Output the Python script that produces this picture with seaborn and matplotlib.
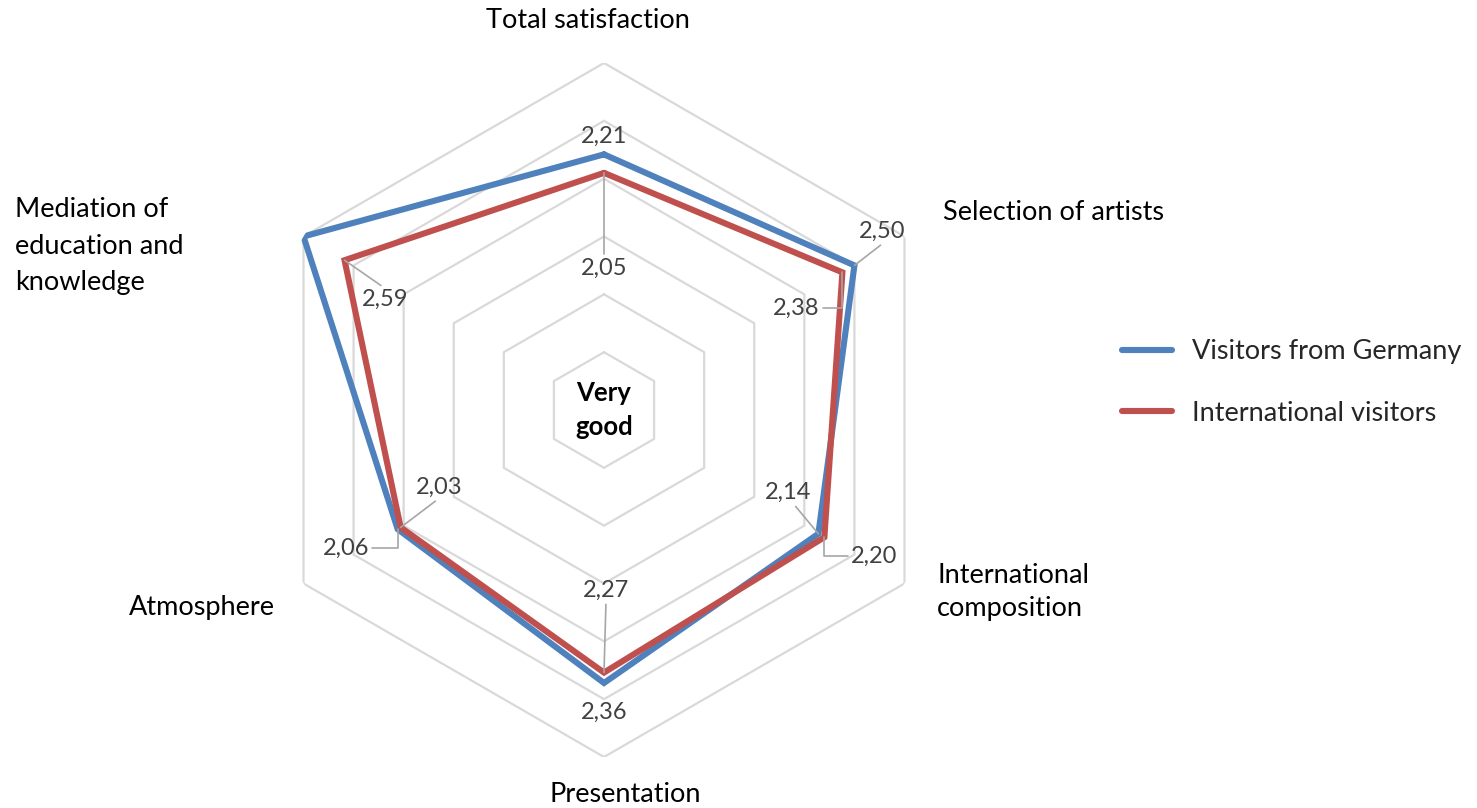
import numpy as np
import pandas as pd
import matplotlib
matplotlib.use("Agg")
import matplotlib.pyplot as plt
import seaborn as sns

# ---- data -------------------------------------------------------------
categories = [
    "Total satisfaction",
    "Selection of artists",
    "International composition",
    "Presentation",
    "Atmosphere",
    "Mediation of education and knowledge",
]
series_names = ["Visitors from Germany", "International visitors"]
germany = [2.21, 2.50, 2.14, 2.36, 2.06, 3.00]
international = [2.05, 2.38, 2.20, 2.27, 2.03, 2.59]
ring_levels = [0.5, 1.0, 1.5, 2.0, 2.5, 3.0]

# ---- styling ----------------------------------------------------------
sns.set_theme(style="white")
plt.rcParams["font.family"] = ["Lato", "DejaVu Sans"]

W, H = 1477, 808
FS_CAT = 19.5     # category labels and legend
FS_VAL = 17       # value labels
FS_MID = 18.5     # centre caption
colors = {"Visitors from Germany": "#4f81bd", "International visitors": "#c0504d"}
grid_color = "#d9d9d9"
label_color = "#404040"
leader_color = "#a6a6a6"

fig = plt.figure(figsize=(W / 100, H / 100), dpi=100)
cx, cy, R = 604, 410, 347
ax = fig.add_axes([(cx - R) / W, (H - cy - R) / H, 2 * R / W, 2 * R / H],
                  projection="polar")
ax.set_theta_zero_location("N")
ax.set_theta_direction(-1)

n = len(categories)
theta = np.linspace(0, 2 * np.pi, n, endpoint=False)
theta_closed = np.append(theta, theta[0] + 2 * np.pi)

# hexagonal grid rings
for lvl in ring_levels:
    ax.plot(theta_closed, [lvl] * (n + 1), color=grid_color, lw=1.6, zorder=1,
            solid_joinstyle="miter")

# series lines
rows = []
for name, vals in zip(series_names, [germany, international]):
    for i, t in enumerate(theta_closed):
        rows.append({"series": name, "theta": t, "value": vals[i % n]})
df = pd.DataFrame(rows)
sns.lineplot(data=df, x="theta", y="value", hue="series", palette=colors,
             sort=False, estimator=None, units="series", lw=4.4, ax=ax,
             legend=True, zorder=3)
for line in ax.get_lines()[len(ring_levels):]:
    line.set_solid_joinstyle("miter")

ax.set_ylim(0, ring_levels[-1])
ax.grid(False)
ax.spines["polar"].set_visible(False)
ax.set_xticks([])
ax.set_yticks([])
ax.set_xlabel("")
ax.set_ylabel("")
ax.set_facecolor("none")

# value labels: (offset in pixels, leader line (relpos, connection style) or None)
ELBOW = "angle,angleA=0,angleB=90,rad=0"
label_layout = {
    ("Visitors from Germany", 0): ((0, 18), None),
    ("International visitors", 0): ((0, -95), ((0.5, 1.0), "arc3")),
    ("Visitors from Germany", 1): ((28, 34), ((0.55, 0.0), "arc3")),
    ("International visitors", 1): ((-46, -36), ((1.0, 0.5), ELBOW)),
    ("Visitors from Germany", 2): ((-30, 41), ((0.6, 0.0), "arc3")),
    ("International visitors", 2): ((50, -19), ((0.0, 0.5), ELBOW)),
    ("Visitors from Germany", 3): ((0, -29), None),
    ("International visitors", 3): ((2, 82), ((0.5, 0.0), "arc3")),
    ("Visitors from Germany", 4): ((-52, -19), ((1.0, 0.5), ELBOW)),
    ("International visitors", 4): ((39, 40), ((0.5, 0.0), "arc3")),
    ("International visitors", 5): ((41, -39), ((0.5, 1.0), "arc3")),
}
for name, vals in zip(series_names, [germany, international]):
    for i, v in enumerate(vals):
        key = (name, i)
        if key not in label_layout:
            continue
        offset, leader = label_layout[key]
        txt = f"{v:.2f}".replace(".", ",")
        kw = {}
        if leader is not None:
            relpos, cstyle = leader
            kw["arrowprops"] = dict(arrowstyle="-", color=leader_color, lw=1.2,
                                    relpos=relpos, connectionstyle=cstyle,
                                    shrinkA=0, shrinkB=0)
        ax.annotate(txt, xy=(theta[i], v), xytext=offset,
                    textcoords="offset pixels", ha="center", va="center",
                    fontsize=FS_VAL, color=label_color, zorder=5,
                    annotation_clip=False, **kw)

# centre caption
ax.text(0, 0, "Very\ngood", ha="center", va="center", fontsize=FS_MID,
        fontweight="bold", color="black", linespacing=1.53, zorder=5)

# category labels
def fig_text(x, y, s, ha, ls=1.3):
    fig.text(x / W, 1 - y / H, s, ha=ha, va="center", fontsize=FS_CAT,
             color="black", linespacing=ls)

fig_text(588, 20, categories[0], "center")
fig_text(943, 212, categories[1], "left")
fig_text(937, 592, "International\ncomposition", "left", 1.41)
fig_text(625, 795, categories[3], "center")
fig_text(275, 607, categories[4], "right")
fig_text(15, 246, "Mediation of\neducation and\nknowledge", "left", 1.56)

# legend
leg = ax.legend(loc="center left", bbox_to_anchor=(1122 / W, 1 - 382.5 / H),
                bbox_transform=fig.transFigure, frameon=False, fontsize=FS_CAT,
                handlelength=1.85, handletextpad=0.74, labelspacing=1.33,
                borderpad=0, borderaxespad=0, title=None)
for line in leg.get_lines():
    line.set_linewidth(4.4)

fig.savefig("out.png", dpi=100, facecolor="white")
